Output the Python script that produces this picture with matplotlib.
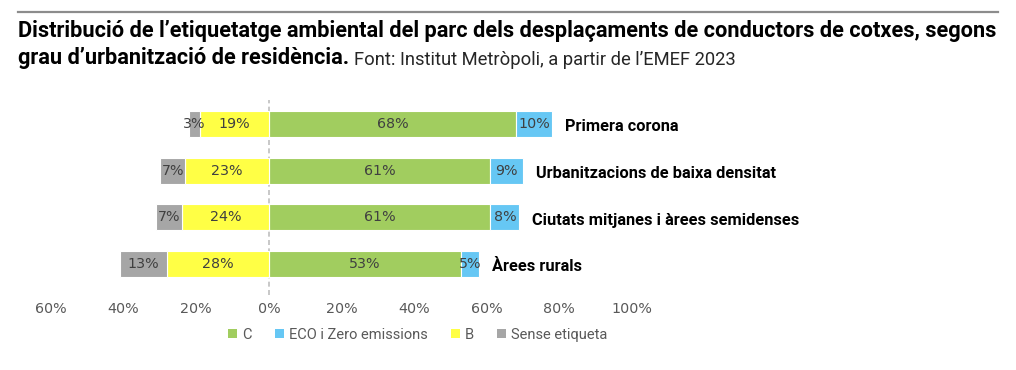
import matplotlib
matplotlib.use("Agg")
import matplotlib.pyplot as plt
from matplotlib.patches import Patch
from matplotlib.lines import Line2D

plt.rcParams['font.family'] = ['Roboto', 'DejaVu Sans']

categories = ['Primera corona', 'Urbanitzacions de baixa densitat',
              'Ciutats mitjanes i àrees semidenses', 'Àrees rurals']
c_vals = [68, 61, 61, 53]
eco_vals = [10, 9, 8, 5]
b_vals = [19, 23, 24, 28]
sense_vals = [3, 7, 7, 13]
xticks = [-60, -40, -20, 0, 20, 40, 60, 80, 100]
legend_labels = ['C', 'ECO i Zero emissions', 'B', 'Sense etiqueta']

col_c = '#A1CD5F'
col_eco = '#66C7F4'
col_b = '#FFFF45'
col_sense = '#A6A6A6'
txt_col = '#404040'

W, H = 1016, 370
fig = plt.figure(figsize=(W / 100, H / 100), dpi=100)
ax = fig.add_axes([51 / W, 75 / H, (632 - 51) / W, (270 - 75) / H])

n = len(categories)
ypos = [n - 1 - i for i in range(n)]
h = 0.56
kw = dict(height=h, edgecolor='white', linewidth=0.8)
ax.barh(ypos, c_vals, left=0, color=col_c, **kw)
ax.barh(ypos, eco_vals, left=c_vals, color=col_eco, **kw)
ax.barh(ypos, [-v for v in b_vals], left=0, color=col_b, **kw)
ax.barh(ypos, [-v for v in sense_vals], left=[-v for v in b_vals], color=col_sense, **kw)

nfs = 10.3
numfont = ['DejaVu Sans']
for y, c, e, b, s, cat in zip(ypos, c_vals, eco_vals, b_vals, sense_vals, categories):
    for xc, v in [(c / 2, c), (c + e / 2, e), (-b / 2, b), (-b - s / 2, s)]:
        ax.text(xc, y, f'{v}%', ha='center', va='center', fontsize=nfs,
                color=txt_col, family=numfont)
    ax.annotate(cat, xy=(c + e, y), xytext=(9, -2), textcoords='offset points',
                ha='left', va='center', fontsize=11.8, fontweight='bold', color='black',
                annotation_clip=False)

ax.axvline(0, color='#BFBFBF', linestyle=(0, (3, 2)), linewidth=1.2, zorder=0)
ax.set_xlim(-60, 100)
ax.set_ylim(-0.66, 3.51)
ax.set_xticks(xticks)
ax.set_xticklabels([f'{abs(t)}%' for t in xticks], family=numfont)
ax.tick_params(axis='x', length=0, pad=5, labelsize=10.3, labelcolor='#595959')
ax.set_yticks([])
for sp in ax.spines.values():
    sp.set_visible(False)
ax.patch.set_alpha(0)

handles = [Patch(facecolor=col) for col in [col_c, col_eco, col_b, col_sense]]
fig.legend(handles, legend_labels, loc='center', bbox_to_anchor=(418 / W, 35 / H),
           ncol=4, frameon=False, fontsize=10.5, labelcolor='#595959',
           handlelength=0.6, handleheight=0.6, handletextpad=0.35, columnspacing=1.6)

# top rule
fig.add_artist(Line2D([18 / W, 998 / W], [1 - 12 / H, 1 - 12 / H], color='#8C8C8C',
                      linewidth=1.6, transform=fig.transFigure))

title1 = "Distribució de l’etiquetatge ambiental del parc dels desplaçaments de conductors de cotxes, segons"
title2 = "grau d’urbanització de residència."
source = "Font: Institut Metròpoli, a partir de l’EMEF 2023"

renderer = fig.canvas.get_renderer()
t1 = fig.text(18 / W, 1 - 31 / H, title1, fontsize=12, fontweight='bold', va='center', ha='left')
w = t1.get_window_extent(renderer).width
t1.set_fontsize(12 * 975 / w)
tfs = t1.get_fontsize()
t2 = fig.text(18 / W, 1 - 58 / H, title2, fontsize=tfs, fontweight='bold', va='center', ha='left')
t3 = fig.text(0, 0, source, fontsize=12)
w3 = t3.get_window_extent(renderer).width
sfs = 12 * 380 / w3
t3.remove()
b2 = t2.get_window_extent(renderer)
fig.text(b2.x1 / W + 5 / W, b2.y0 / H, source, fontsize=sfs, va='bottom', ha='left', color='#262626')

fig.savefig('out.png', dpi=100)
